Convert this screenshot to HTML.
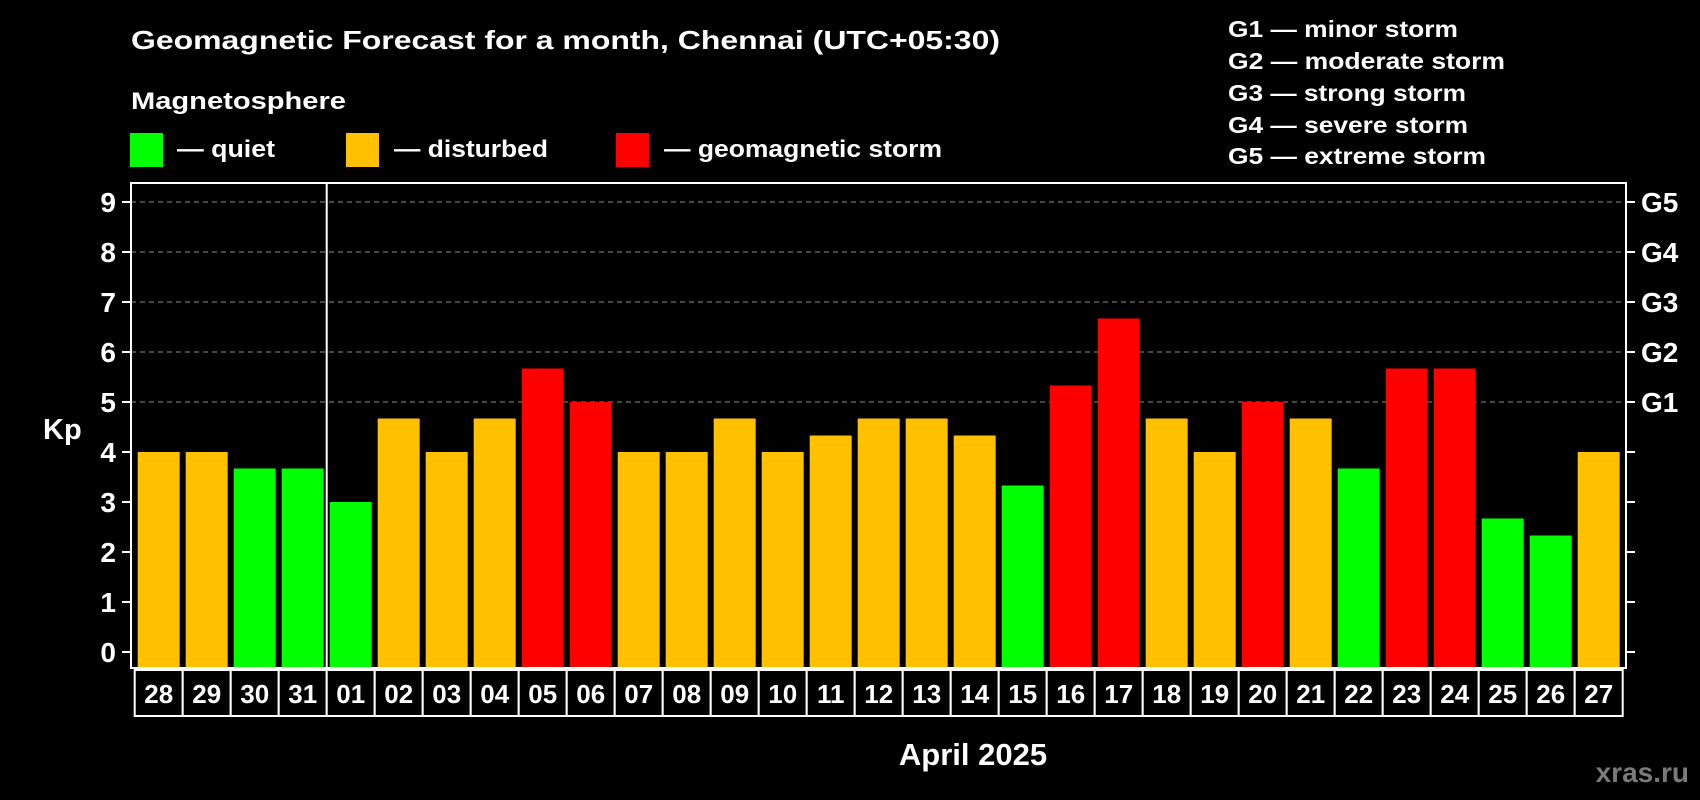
<!DOCTYPE html>
<html><head><meta charset="utf-8"><style>
html,body{margin:0;padding:0;background:#000;}
svg{display:block;font-family:"Liberation Sans",Arial,sans-serif;font-weight:bold;}
</style></head><body>
<svg id="chart" width="1700" height="800" viewBox="0 0 1700 800">
<rect x="0" y="0" width="1700" height="800" fill="#000"/>
<text x="131" y="49" font-size="26" fill="#fff" textLength="869" lengthAdjust="spacingAndGlyphs">Geomagnetic Forecast for a month, Chennai (UTC+05:30)</text>
<text x="131" y="109" font-size="24" fill="#fff" textLength="215" lengthAdjust="spacingAndGlyphs">Magnetosphere</text>
<g>
<rect x="130" y="133" width="33" height="34" fill="#00ff00"/>
<text x="177" y="157" font-size="24" fill="#fff" textLength="98" lengthAdjust="spacingAndGlyphs">— quiet</text></g>
<g>
<rect x="346" y="133" width="33" height="34" fill="#ffc000"/>
<text x="394" y="157" font-size="24" fill="#fff" textLength="154" lengthAdjust="spacingAndGlyphs">— disturbed</text></g>
<g>
<rect x="616" y="133" width="33" height="34" fill="#ff0000"/>
<text x="664" y="157" font-size="24" fill="#fff" textLength="278" lengthAdjust="spacingAndGlyphs">— geomagnetic storm</text></g>
<g font-size="23" fill="#fff">
<text x="1228" y="37" textLength="230" lengthAdjust="spacingAndGlyphs">G1 — minor storm</text>
<text x="1228" y="69" textLength="277" lengthAdjust="spacingAndGlyphs">G2 — moderate storm</text>
<text x="1228" y="101" textLength="238" lengthAdjust="spacingAndGlyphs">G3 — strong storm</text>
<text x="1228" y="133" textLength="240" lengthAdjust="spacingAndGlyphs">G4 — severe storm</text>
<text x="1228" y="164" textLength="258" lengthAdjust="spacingAndGlyphs">G5 — extreme storm</text>
</g>
<g id="grid"></g>
<g id="bars"></g>
<g id="axes"></g>
<text x="43" y="439" font-size="29" fill="#fff">Kp</text>
<text x="973" y="765" font-size="31" fill="#fff" text-anchor="middle">April 2025</text>
<text x="1689" y="782" font-size="28" fill="#7a7a7a" text-anchor="end">xras.ru</text>
</svg>
<script>
const days = ["28","29","30","31","01","02","03","04","05","06","07","08","09","10","11","12","13","14","15","16","17","18","19","20","21","22","23","24","25","26","27"];
const kpValues = [4,4,3.67,3.67,3,4.67,4,4.67,5.67,5,4,4,4.67,4,4.33,4.67,4.67,4.33,3.33,5.33,6.67,4.67,4,5,4.67,3.67,5.67,5.67,2.67,2.33,4];
const levels = ["disturbed","disturbed","quiet","quiet","quiet","disturbed","disturbed","disturbed","storm","storm","disturbed","disturbed","disturbed","disturbed","disturbed","disturbed","disturbed","disturbed","quiet","storm","storm","disturbed","disturbed","storm","disturbed","quiet","storm","storm","quiet","quiet","disturbed"];
const yTicks = [0,1,2,3,4,5,6,7,8,9];
const gLabels = ["G1","G2","G3","G4","G5"];
const gLevels = [5,6,7,8,9];
const monthStartIndex = 4;

const NS="http://www.w3.org/2000/svg";
const frameL=131, frameR=1626, frameT=183, frameB=668;
const slot0=134.7, slotW=48, barW=42;
const y = v => 652 - v*50;
const xSlot = i => slot0 + i*slotW;
const colorOf = {quiet:"#00ff00",disturbed:"#ffc000",storm:"#ff0000"};
function mk(tag, attrs, parent){const e=document.createElementNS(NS,tag);for(const k in attrs)e.setAttribute(k,attrs[k]);parent.appendChild(e);return e;}
const grid=document.getElementById('grid'), bars=document.getElementById('bars'), axes=document.getElementById('axes');

gLevels.forEach(v=>{
  const l=mk('line',{x1:frameL,x2:frameR,y1:y(v),y2:y(v),stroke:'#8c8c8c','stroke-width':1,'stroke-dasharray':'5,4'},grid);
  
  
});

kpValues.forEach((v,i)=>{
  const r=mk('rect',{x:xSlot(i)+3,y:y(v),width:barW,height:frameB-y(v),fill:colorOf[levels[i]]},bars);
  
  
});

const frame=mk('rect',{x:frameL,y:frameT,width:frameR-frameL,height:frameB-frameT,fill:'none',stroke:'#fff','stroke-width':2},axes);


const sep=mk('line',{x1:xSlot(monthStartIndex),x2:xSlot(monthStartIndex),y1:frameT,y2:frameB,stroke:'#fff','stroke-width':2},axes);



yTicks.forEach(v=>{
  const t=mk('line',{x1:frameL-9,x2:frameL,y1:y(v),y2:y(v),stroke:'#fff','stroke-width':2},axes);
  
  
  const t2=mk('line',{x1:frameR,x2:frameR+9,y1:y(v),y2:y(v),stroke:'#fff','stroke-width':2},axes);
  
  
  const tx=mk('text',{x:116,y:y(v)+10,'font-size':28,fill:'#fff','text-anchor':'end'},axes);
  tx.textContent=v;
  
  
});
gLabels.forEach((g,i)=>{
  const tx=mk('text',{x:1641,y:y(gLevels[i])+10,'font-size':28,fill:'#fff'},axes);
  tx.textContent=g;
  
  
});
days.forEach((d,i)=>{
  const b=mk('rect',{x:xSlot(i),y:670,width:slotW,height:46,fill:'#000',stroke:'#fff','stroke-width':2},axes);
  
  
  const tx=mk('text',{x:xSlot(i)+slotW/2,y:703,'font-size':26,fill:'#fff','text-anchor':'middle'},axes);
  tx.textContent=d;
  
  
});
</script>
</body></html>
